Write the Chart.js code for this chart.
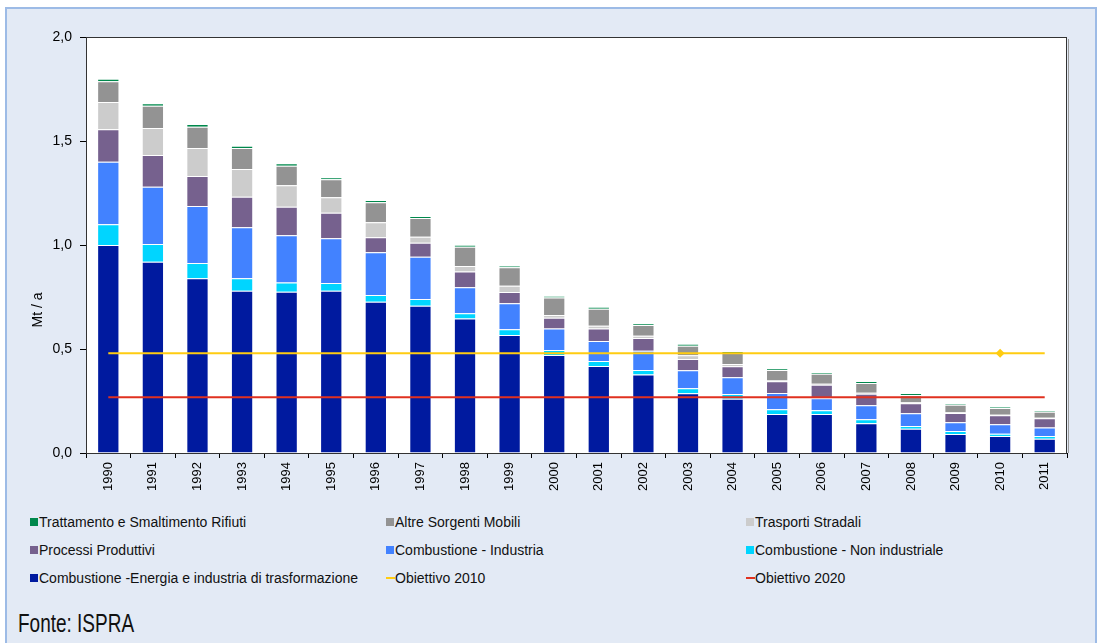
<!DOCTYPE html>
<html>
<head>
<meta charset="utf-8">
<script src="https://cdn.jsdelivr.net/npm/chart.js@4.4.1/dist/chart.umd.min.js"></script>
<style>
  html, body { margin: 0; padding: 0; background: #fff; }
  body { width: 1097px; height: 643px; position: relative; overflow: hidden; font-family: "Liberation Sans", Arial, sans-serif; }
  .frame { position: absolute; left: 5px; top: 7px; width: 1088px; height: 660px; background: #E3EAF5; border: 2px solid #9DBBE6; }
  #chart { position: absolute; left: 0; top: 0; }
  .item { position: absolute; height: 16px; line-height: 16px; font-size: 14px; color: #111; white-space: nowrap; display: flex; align-items: center; }
  .sw { width: 8px; height: 8px; margin-right: 1px; }
  .ln { width: 9px; height: 2px; }
  .source { position: absolute; left: 18px; top: 610px; font-size: 26px; line-height: 26px; transform: scaleX(0.73); transform-origin: left top; color: #111; }
</style>
</head>
<body>
<div class="frame"></div>
<canvas id="chart" width="1097" height="500"></canvas>
<div id="legend"></div>
<div class="source">Fonte: ISPRA</div>
<script>
// years on the x axis
const years = ['1990','1991','1992','1993','1994','1995','1996','1997','1998','1999','2000',
               '2001','2002','2003','2004','2005','2006','2007','2008','2009','2010','2011'];

// emissions by sector, Mt/a
const energia        = [1.00, 0.92, 0.84, 0.78, 0.775, 0.78, 0.727, 0.708, 0.647, 0.567, 0.471, 0.418, 0.377, 0.287, 0.261, 0.188, 0.188, 0.143, 0.117, 0.091, 0.082, 0.069];
const nonIndustriale = [0.10, 0.085, 0.073, 0.06, 0.045, 0.037, 0.033, 0.032, 0.025, 0.028, 0.024, 0.024, 0.022, 0.024, 0.023, 0.022, 0.017, 0.019, 0.013, 0.015, 0.011, 0.013];
const industria      = [0.30, 0.275, 0.275, 0.245, 0.227, 0.215, 0.205, 0.204, 0.125, 0.125, 0.103, 0.096, 0.093, 0.087, 0.08, 0.078, 0.058, 0.067, 0.061, 0.042, 0.045, 0.04];
const processi       = [0.157, 0.153, 0.144, 0.147, 0.137, 0.123, 0.072, 0.067, 0.075, 0.054, 0.052, 0.06, 0.061, 0.054, 0.053, 0.057, 0.065, 0.056, 0.048, 0.044, 0.043, 0.045];
const stradali       = [0.13, 0.13, 0.134, 0.133, 0.103, 0.074, 0.072, 0.029, 0.027, 0.03, 0.013, 0.014, 0.011, 0.018, 0.011, 0.006, 0.005, 0.005, 0.005, 0.004, 0.003, 0.002];
const mobili         = [0.10, 0.107, 0.103, 0.101, 0.094, 0.087, 0.096, 0.09, 0.093, 0.089, 0.084, 0.082, 0.051, 0.046, 0.053, 0.048, 0.048, 0.047, 0.035, 0.036, 0.032, 0.029];
const rifiuti        = [0.012, 0.011, 0.013, 0.011, 0.012, 0.009, 0.011, 0.009, 0.009, 0.007, 0.008, 0.008, 0.009, 0.008, 0.008, 0.008, 0.007, 0.008, 0.009, 0.005, 0.005, 0.005];

// targets
const obiettivo2010 = years.map(() => 0.48);
const obiettivo2020 = years.map(() => 0.268);
const markerYear = '2010';

const yTicks = [0, 0.5, 1.0, 1.5, 2.0];

function bar(label, data, color) {
  return {
    type: 'bar', label: label, data: data, stack: 'settori',
    backgroundColor: color, borderColor: 'rgba(255,255,255,0.35)', borderWidth: 1,
    barPercentage: 0.5, categoryPercentage: 1, order: 2
  };
}
function line(label, data, color, stack) {
  return {
    type: 'line', label: label, data: data, stack: stack,
    borderColor: color, backgroundColor: color, borderWidth: 2,
    pointStyle: 'rectRot', pointBackgroundColor: color, pointBorderWidth: 0,
    pointRadius: years.map(y => (stack === 'o2010' && y === markerYear) ? 4.5 : 0),
    order: 1
  };
}

const plotFrame = {
  id: 'plotFrame',
  beforeDraw(chart) {
    const a = chart.chartArea, ctx = chart.ctx;
    ctx.save();
    ctx.fillStyle = '#fff';
    ctx.fillRect(a.left, a.top, a.width, a.height);
    ctx.restore();
  },
  afterDraw(chart) {
    const a = chart.chartArea, ctx = chart.ctx;
    ctx.save();
    ctx.strokeStyle = '#999';
    ctx.lineWidth = 1;
    ctx.beginPath();
    ctx.moveTo(a.right + 1.5, a.top + 2);
    ctx.lineTo(a.right + 1.5, a.bottom);
    ctx.stroke();
    ctx.strokeStyle = '#333';
    ctx.strokeRect(a.left + 0.5, a.top + 0.5, a.width - 1, a.height);
    // y axis title
    ctx.fillStyle = '#000';
    ctx.font = '14px "Liberation Sans", Arial, sans-serif';
    ctx.textAlign = 'center';
    ctx.textBaseline = 'middle';
    ctx.translate(38, 310);
    ctx.rotate(-Math.PI / 2);
    ctx.fillText('Mt / a', 0, 0);
    ctx.restore();
  }
};

const chart = new Chart(document.getElementById('chart'), {
  data: {
    labels: years,
    datasets: [
      bar('Combustione -Energia e industria di trasformazione', energia, '#001A9F'),
      bar('Combustione - Non industriale', nonIndustriale, '#00D5FF'),
      bar('Combustione - Industria', industria, '#4282FF'),
      bar('Processi Produttivi', processi, '#76618E'),
      bar('Trasporti Stradali', stradali, '#CCCCCC'),
      bar('Altre Sorgenti Mobili', mobili, '#939393'),
      bar('Trattamento e Smaltimento Rifiuti', rifiuti, '#00884C'),
      line('Obiettivo 2010', obiettivo2010, '#FFCC11', 'o2010'),
      line('Obiettivo 2020', obiettivo2020, '#E0311F', 'o2020')
    ]
  },
  options: {
    responsive: false,
    animation: false,
    layout: { padding: { left: 0, top: 37, right: 30, bottom: 0 } },
    plugins: { legend: { display: false }, tooltip: { enabled: false } },
    scales: {
      x: {
        stacked: true,
        offset: true,
        grid: { offset: true, drawOnChartArea: false, tickLength: 5, color: '#000' },
        border: { color: '#000' },
        ticks: { minRotation: 90, maxRotation: 90, padding: 4, color: '#000',
                 font: { family: '"Liberation Sans", Arial, sans-serif', size: 13 } },
        afterFit(s) { s.height = 47; }
      },
      y: {
        stacked: true,
        min: 0, max: 2,
        grid: { drawOnChartArea: false, tickLength: 6, color: '#000' },
        border: { color: '#000' },
        afterBuildTicks(s) { s.ticks = yTicks.map(v => ({ value: v })); },
        ticks: { padding: 8, color: '#000',
                 font: { family: '"Liberation Sans", Arial, sans-serif', size: 14 },
                 callback: v => v.toFixed(1).replace('.', ',') },
        afterFit(s) { s.width = 86; }
      }
    }
  },
  plugins: [plotFrame]
});

// legend laid out as in the original: 3 columns x 3 rows
const legendOrder = [6, 5, 4, 3, 2, 1, 0, 7, 8];
const colX = [30, 386, 746];
const rowY = [522, 550, 578];
const legend = document.getElementById('legend');
legendOrder.forEach((di, k) => {
  const ds = chart.data.datasets[di];
  const item = document.createElement('div');
  item.className = 'item';
  item.style.left = colX[k % 3] + 'px';
  item.style.top = (rowY[Math.floor(k / 3)] - 8) + 'px';
  const sw = document.createElement('span');
  sw.className = ds.type === 'line' ? 'ln' : 'sw';
  sw.style.background = ds.type === 'line' ? ds.borderColor : ds.backgroundColor;
  item.appendChild(sw);
  item.appendChild(document.createTextNode(ds.label));
  legend.appendChild(item);
});
</script>
</body>
</html>
